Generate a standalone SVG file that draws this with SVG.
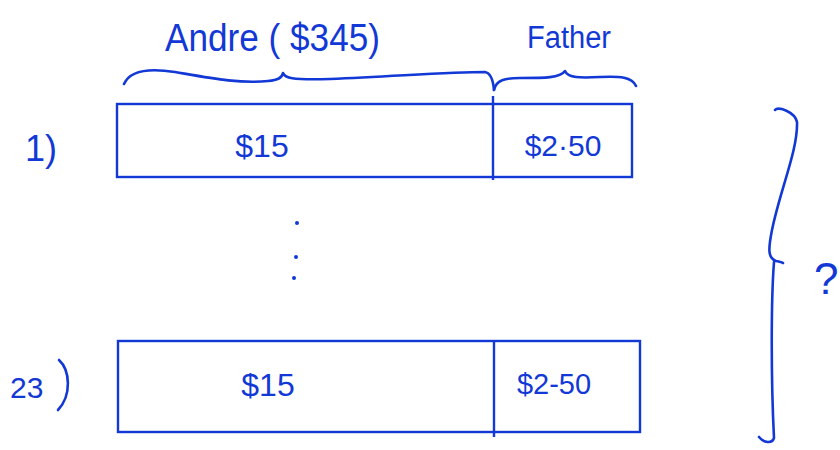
<svg xmlns="http://www.w3.org/2000/svg" width="840" height="450" viewBox="0 0 840 450">
<style>
.ink{fill:none;stroke:#1238d6;stroke-width:2.6;stroke-linecap:round;stroke-linejoin:round}
.box{fill:none;stroke:#1238d6;stroke-width:2.4}
.t{fill:#1238d6;font-family:"Liberation Sans",Arial,sans-serif}
</style>
<rect width="840" height="450" fill="#ffffff"/>
<g id="label-andre"><text class="t" x="165" y="51" font-size="38" textLength="215" lengthAdjust="spacingAndGlyphs">Andre ( $345)</text></g>
<g id="label-father"><text class="t" x="527" y="48" font-size="31" textLength="84" lengthAdjust="spacingAndGlyphs">Father</text></g>
<g id="brace-andre"><path class="ink" d="M124,84 C130,70 150,68 175,72 C210,78 240,84 268,81 C278,80 282,78 283,73 C285,78 290,80 330,79 C400,76 450,72 485,72 C490,73 493,78 494,90"/></g>
<g id="brace-father"><path class="ink" d="M494,90 C496,80 505,78 520,78 C545,78 560,78 565,71 C568,78 580,78 600,77 C620,76 632,77 636,86"/></g>
<g id="row1">
<text class="t" x="25" y="161" font-size="36">1)</text>
<rect class="box" x="117" y="104" width="515" height="73"/>
<line class="box" x1="493" y1="96" x2="493" y2="180"/>
<text class="t" x="262" y="157" font-size="32" text-anchor="middle">$15</text>
<text class="t" x="563" y="156" font-size="30" text-anchor="middle">$2·50</text>
</g>
<g id="ellipsis">
<circle cx="297" cy="223" r="2" fill="#1238d6"/>
<circle cx="296" cy="257" r="2" fill="#1238d6"/>
<circle cx="294" cy="278" r="2" fill="#1238d6"/>
</g>
<g id="row23">
<text class="t" x="10" y="398" font-size="30">23</text>
<path class="ink" d="M59,360 C70,370 72,395 58,410"/>
<rect class="box" x="118" y="341" width="522" height="91"/>
<line class="box" x1="494" y1="341" x2="494" y2="437"/>
<text class="t" x="268" y="396" font-size="32" text-anchor="middle">$15</text>
<text class="t" x="554" y="394" font-size="29" text-anchor="middle">$2-50</text>
</g>
<g id="brace-total">
<path class="ink" d="M775,110 C778,106 795,112 797,122 C798,150 780,190 772,230 C768,250 768,258 776,261 C780,262 782,262 783,263"/>
<path class="ink" d="M774,262 C771,300 771,380 774,438 C772,444 764,443 759,437"/>
</g>
<g id="label-question"><text class="t" x="814" y="294" font-size="44">?</text></g>
</svg>
